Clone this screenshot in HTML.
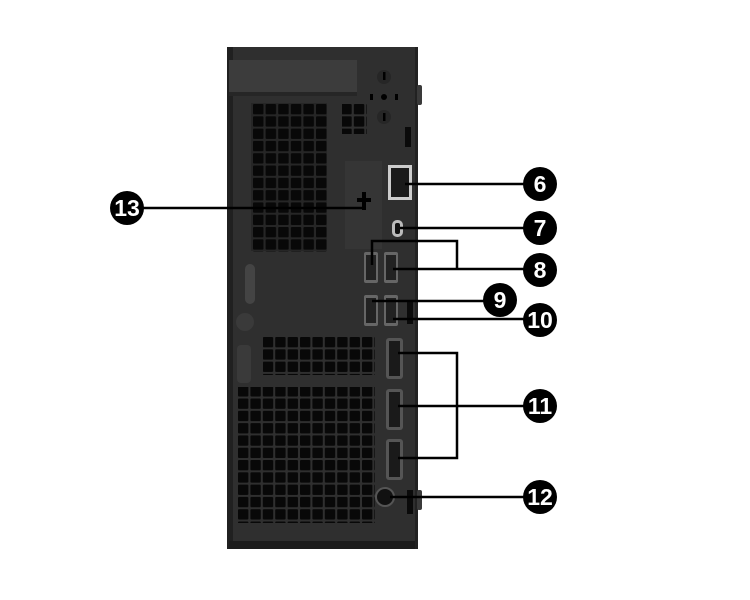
<!DOCTYPE html>
<html><head><meta charset="utf-8"><style>
html,body{margin:0;padding:0;background:#fff;}
svg{display:block;}
text{font-family:"Liberation Sans",sans-serif;font-weight:bold;fill:#fff;}
</style></head><body>
<svg width="750" height="600" viewBox="0 0 750 600" xmlns="http://www.w3.org/2000/svg">
<defs>
<pattern id="v" x="253" y="104" width="12.6" height="12.3" patternUnits="userSpaceOnUse"><rect x="0" y="0" width="10.5" height="10.3" rx="1" fill="#080808"/></pattern>
<pattern id="v2" x="238" y="337" width="12.4" height="12.3" patternUnits="userSpaceOnUse"><rect x="0" y="0" width="10.4" height="10.3" rx="1" fill="#080808"/></pattern>
</defs>
<rect x="227" y="47" width="191" height="502" fill="#2f2f2f"/>
<rect x="227" y="47" width="6" height="502" fill="#202020"/>
<rect x="229" y="541" width="188" height="8" fill="#1c1c1c"/>
<rect x="415" y="47" width="3" height="502" fill="#222"/>
<rect x="417" y="85" width="5" height="20" rx="2" fill="#3a3a3a"/>
<rect x="417" y="490" width="5" height="20" rx="2" fill="#3a3a3a"/>
<rect x="229" y="60" width="128" height="36" fill="#3c3c3c"/>
<rect x="229" y="92" width="128" height="4" fill="#262626"/>
<circle cx="384" cy="77" r="7" fill="#262626"/><rect x="383" y="72" width="2.5" height="8" fill="#000"/>
<circle cx="384" cy="117" r="7" fill="#262626"/><rect x="383" y="113" width="2.5" height="8" fill="#000"/>
<circle cx="384" cy="97" r="3" fill="#000"/><rect x="370" y="94" width="3" height="6" fill="#000"/><rect x="395" y="94" width="3" height="6" fill="#000"/>
<rect x="405" y="127" width="6" height="20" fill="#0a0a0a"/>
<rect x="251" y="103" width="76" height="148" fill="#262626"/>
<rect x="253" y="104" width="75" height="148" fill="url(#v)"/>
<rect x="342" y="104" width="25" height="30" fill="url(#v)"/>
<rect x="263" y="337" width="112" height="38" fill="url(#v2)"/>
<rect x="238" y="387" width="137" height="136" fill="url(#v2)"/>
<rect x="238" y="349" width="24" height="38" fill="#2f2f2f"/>
<rect x="345" y="161" width="37" height="88" fill="#353535"/>
<rect x="357" y="198" width="14" height="4" fill="#000"/><rect x="362" y="192" width="4" height="18" fill="#000"/>
<rect x="245" y="264" width="10" height="40" rx="5" fill="#444"/>
<circle cx="245" cy="322" r="9" fill="#3a3a3a"/>
<rect x="237" y="345" width="14" height="38" rx="4" fill="#3a3a3a"/>
<rect x="388" y="165" width="24" height="35" fill="#ccc"/>
<rect x="391" y="168" width="18" height="29" fill="#1a1a1a"/>
<rect x="392" y="220" width="11" height="17" rx="5" fill="#bbb"/>
<rect x="395" y="223" width="5" height="11" rx="2" fill="#111"/>
<g fill="#666"><rect x="364" y="252" width="14" height="31" rx="2"/><rect x="384" y="252" width="14" height="31" rx="2"/><rect x="364" y="295" width="14" height="31" rx="2"/><rect x="384" y="295" width="14" height="31" rx="2"/></g>
<g fill="#222"><rect x="366" y="255" width="10" height="25"/><rect x="386" y="255" width="10" height="25"/><rect x="366" y="298" width="10" height="25"/><rect x="386" y="298" width="10" height="25"/></g>
<rect x="407" y="302" width="6" height="22" fill="#0a0a0a"/>
<g fill="#555"><rect x="386" y="338" width="17" height="41" rx="3"/><rect x="386" y="389" width="17" height="41" rx="3"/><rect x="386" y="439" width="17" height="41" rx="3"/></g>
<g fill="#1a1a1a"><rect x="389" y="341" width="11" height="35"/><rect x="389" y="392" width="11" height="35"/><rect x="389" y="442" width="11" height="35"/></g>
<circle cx="385" cy="497" r="9" fill="#111" stroke="#555" stroke-width="2"/>
<rect x="407" y="490" width="6" height="24" fill="#0a0a0a"/>
<g stroke="#000" stroke-width="2.5" fill="none">
<line x1="141" y1="208" x2="362" y2="208"/>
<line x1="405" y1="184" x2="526" y2="184"/>
<line x1="400" y1="228" x2="526" y2="228"/>
<polyline points="372,265 372,241 457,241 457,269"/>
<line x1="393" y1="269" x2="526" y2="269"/>
<line x1="372" y1="301" x2="486" y2="301"/>
<line x1="393" y1="319" x2="526" y2="319"/>
<polyline points="398,353 457,353 457,458 398,458"/>
<line x1="398" y1="406" x2="526" y2="406"/>
<line x1="390" y1="497" x2="526" y2="497"/>
</g>
<g fill="#000">
<circle cx="540" cy="184" r="17"/><circle cx="540" cy="228" r="17"/><circle cx="540" cy="270" r="17"/>
<circle cx="500" cy="300" r="17"/><circle cx="540" cy="320" r="17"/><circle cx="540" cy="406" r="17"/>
<circle cx="540" cy="497" r="17"/><circle cx="127" cy="208" r="17"/>
</g>
<g font-size="23" text-anchor="middle">
<text x="540" y="192">6</text><text x="540" y="236">7</text><text x="540" y="278">8</text>
<text x="500" y="308">9</text><text x="540" y="328">10</text><text x="540" y="414">11</text>
<text x="540" y="505">12</text><text x="127" y="216">13</text>
</g>
</svg>
</body></html>
